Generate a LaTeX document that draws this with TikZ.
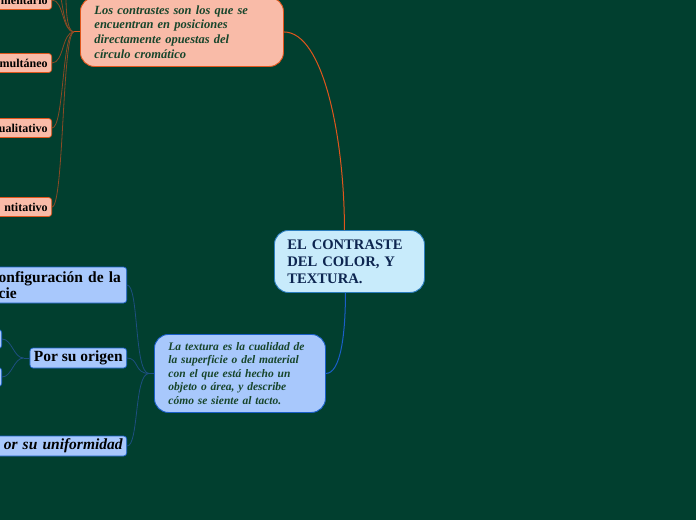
\documentclass[tikz,border=0pt]{standalone}
\usepackage{fontspec}
\setmainfont{Liberation Serif}
\definecolor{bg}{HTML}{013F2F}
\definecolor{orfill}{HTML}{F9BBA8}
\definecolor{ordraw}{HTML}{E0561C}
\definecolor{orline}{HTML}{8A4A25}
\definecolor{rootfill}{HTML}{C8EBFB}
\definecolor{rootdraw}{HTML}{2B7DBF}
\definecolor{bluefill}{HTML}{A8C8FC}
\definecolor{bluedraw}{HTML}{1A5FC8}
\definecolor{blueline}{HTML}{1D4F80}
\definecolor{navy}{HTML}{0D2550}
\definecolor{dgreen}{HTML}{17452B}
\tikzset{
  rootbox/.style={draw=rootdraw, fill=rootfill, line width=0.9pt, rounded corners=14pt,
    text=navy, font=\fontsize{14.6}{17}\selectfont\bfseries, align=left,
    text width=124pt, inner xsep=13pt, minimum height=62pt},
  orbig/.style={draw=ordraw, fill=orfill, line width=0.9pt, rounded corners=14pt,
    text=dgreen, font=\fontsize{12.5}{14.7}\selectfont\bfseries\itshape, align=left,
    text width=175pt, inner xsep=14pt, minimum height=69pt},
  bluebig/.style={draw=bluedraw, fill=bluefill, line width=0.9pt, rounded corners=14pt,
    text=dgreen, font=\fontsize{11.5}{13.5}\selectfont\bfseries\itshape, align=left,
    text width=143pt, inner xsep=14pt, minimum height=78pt},
  orsmall/.style={draw=ordraw, fill=orfill, line width=0.7pt, rounded corners=3pt,
    text=black, font=\fontsize{12}{14}\selectfont\bfseries, align=right,
    inner xsep=4pt, inner ysep=1pt, minimum height=19pt, text width=72pt, anchor=east},
  bluesmall/.style={draw=bluedraw, fill=bluefill, line width=0.7pt, rounded corners=3pt,
    text=black, font=\fontsize{15.5}{16.5}\selectfont\bfseries, inner xsep=4pt, inner ysep=1pt,
    minimum height=20pt},
  orconn/.style={draw=orline, line width=0.8pt},
  blconn/.style={draw=blueline, line width=0.8pt},
}
\begin{document}
\begin{tikzpicture}[x=1pt,y=-1pt]
\useasboundingbox (0,0) rectangle (696,520);
\fill[bg] (0,0) rectangle (696,520);
\clip (0,0) rectangle (696,520);

% main nodes
\node[rootbox, anchor=north west] (root) at (274,230) {EL CONTRASTE\\DEL COLOR, Y\\TEXTURA.};
\node[orbig, anchor=north west] (om) at (80,-3) {Los contrastes son los que se\\encuentran en posiciones\\directamente opuestas del\\círculo cromático};
\node[bluebig, anchor=north west] (bm) at (154,334) {La textura es la cualidad de\\la superficie o del material\\con el que está hecho un\\objeto o área, y describe\\cómo se siente al tacto.};

% orange children
\node[orsmall] (c1) at (52,0) {mentario};
\node[orsmall] (c2) at (52,63) {multáneo};
\node[orsmall] (c3) at (52,128) {ualitativo};
\node[orsmall] (c4) at (52,207) {ntitativo};

% blue children
\node[bluesmall, anchor=east, align=left, text width=124pt, minimum height=36pt] (b1) at (127,285) {onfiguración de la\\cie};
\node[bluesmall, anchor=east] (b2) at (127,358) {Por su origen};
\node[bluesmall, anchor=east, align=right, text width=140pt, font=\fontsize{15.5}{16.5}\selectfont\bfseries\itshape] (b3) at (127,446) {or su uniformidad};
\node[bluesmall, anchor=east, minimum width=40pt, minimum height=19pt] (b21) at (2,339) {};
\node[bluesmall, anchor=east, minimum width=40pt, minimum height=19pt] (b22) at (2,377) {};

% hubs
\coordinate (oh) at ([xshift=-6pt]om.west);
\coordinate (bh) at ([xshift=-5pt]bm.west);
\coordinate (ph) at ([xshift=-6pt]b2.west);

% root connectors
\draw[draw=ordraw, line width=1pt] (om.east) .. controls +(40,0) and +(0,-90) .. ([xshift=-5pt]root.north);
\draw[draw=bluedraw, line width=1pt] (bm.east) .. controls +(15,0) and +(0,40) .. ([xshift=-4pt]root.south);

% orange branches
\draw[draw=ordraw, line width=1pt] (om.west) -- (oh);
\foreach \c in {c1,c2,c3,c4}
  \draw[orconn] (oh) .. controls +(-12,0) and +(12,0) .. (\c.east);
\draw[orconn] (oh) .. controls +(-10,0) and +(3,8) .. (60,-5);
\draw[orconn] (oh) .. controls +(-8,0) and +(0,8) .. (66,-5);

% blue branches
\draw[blconn] (bm.west) -- (bh);
\foreach \c in {b1,b2,b3}
  \draw[blconn] (bh) .. controls +(-15,0) and +(12,0) .. (\c.east);
\draw[blconn] (b2.west) -- (ph);
\foreach \c in {b21,b22}
  \draw[blconn] (ph) .. controls +(-10,0) and +(10,0) .. (\c.east);
\end{tikzpicture}
\end{document}
